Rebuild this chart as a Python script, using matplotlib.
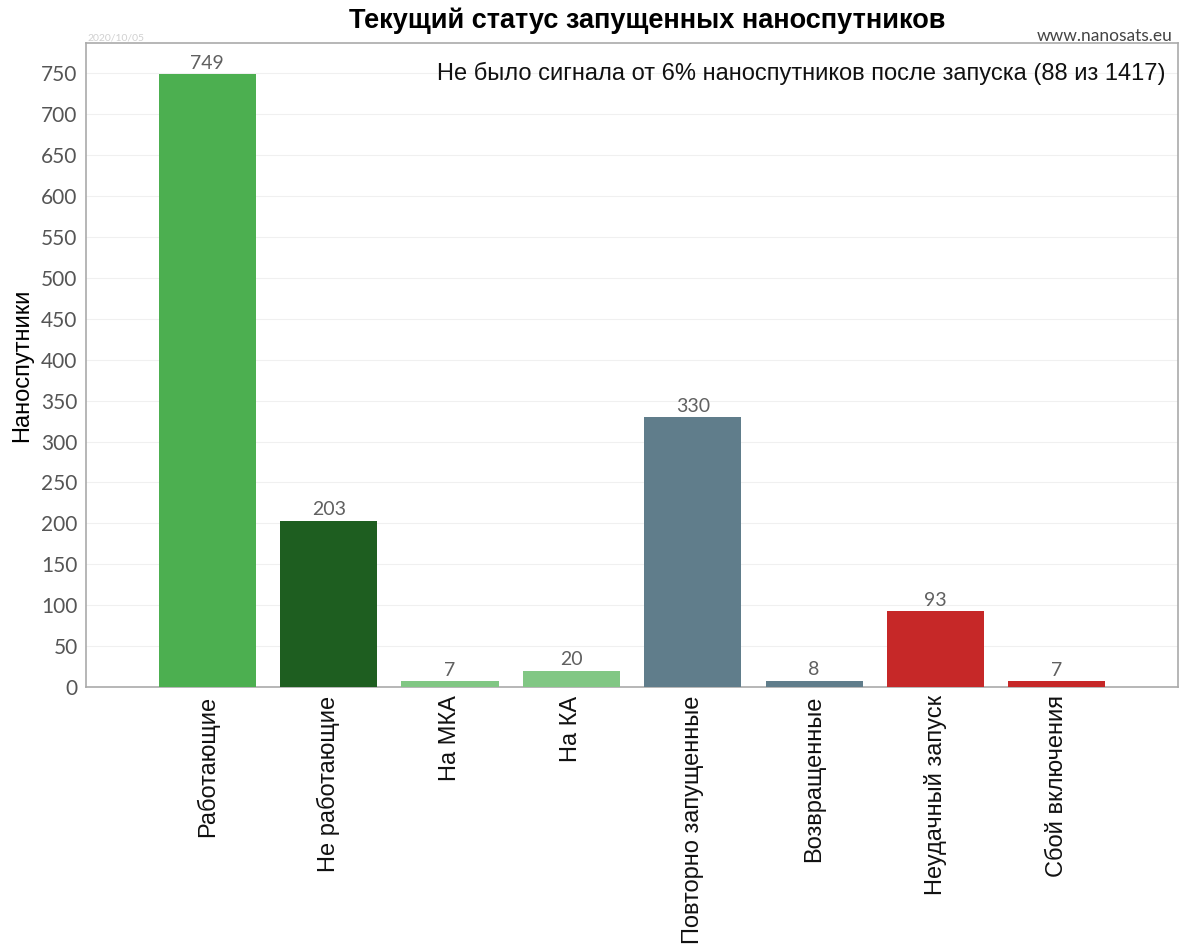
import matplotlib
matplotlib.use("Agg")
import matplotlib.pyplot as plt

categories = ["Работающие", "Не работающие", "На МКА", "На КА",
              "Повторно запущенные", "Возвращенные", "Неудачный запуск", "Сбой включения"]
values = [749, 203, 7, 20, 330, 8, 93, 7]
colors = ["#4caf50", "#1e5e20", "#81c784", "#81c784",
          "#607d8b", "#607d8b", "#c62828", "#c62828"]
yticks = list(range(0, 751, 50))

title = "Текущий статус запущенных наноспутников"
note = "Не было сигнала от 6% наноспутников после запуска (88 из 1417)"
ylabel = "Наноспутники"

plt.rcParams['font.family'] = ['Liberation Sans', 'DejaVu Sans']

fig = plt.figure(figsize=(11.84, 9.49), dpi=100)
ax = fig.add_axes([0.0726, 0.276, 0.9224, 0.6787])

x = list(range(len(categories)))
ax.bar(x, values, width=0.8, color=colors, zorder=3)
for xi, v in zip(x, values):
    ax.text(xi, v + 3, str(v), ha='center', va='bottom', fontsize=14,
            color='#606060', family=['Lato', 'DejaVu Sans'])

ax.set_xlim(-1, 8)
ax.set_ylim(0, 787)
ax.set_yticks(yticks)
ax.set_yticklabels([str(t) for t in yticks], family=['Lato', 'DejaVu Sans'],
                   fontsize=15, color='#555555')
ax.set_xticks(x)
ax.set_xticklabels(categories, rotation=90, fontsize=17, color='#111111')
ax.tick_params(axis='both', length=0, pad=6)
ax.yaxis.grid(True, color='#f0f0f0', linewidth=0.8, zorder=0)
for s in ax.spines.values():
    s.set_color('#aaaaaa')
    s.set_linewidth(1.2)

ax.set_ylabel(ylabel, fontsize=17, labelpad=6)

fig.text(0.547, 0.978, title, ha='center', va='center', fontsize=19.5, fontweight='bold')
fig.text(0.984, 0.923, note, ha='right', va='center', fontsize=17, color='#111111')
fig.text(0.99, 0.962, "www.nanosats.eu", ha='right', va='center', fontsize=12.5,
         color='#444444', family=['Lato', 'DejaVu Sans'])
fig.text(0.0735, 0.96, "2020/10/05", ha='left', va='center', fontsize=7.5,
         color='#d0d0d0', family=['Lato', 'DejaVu Sans'])

fig.savefig("out.png", dpi=100)
